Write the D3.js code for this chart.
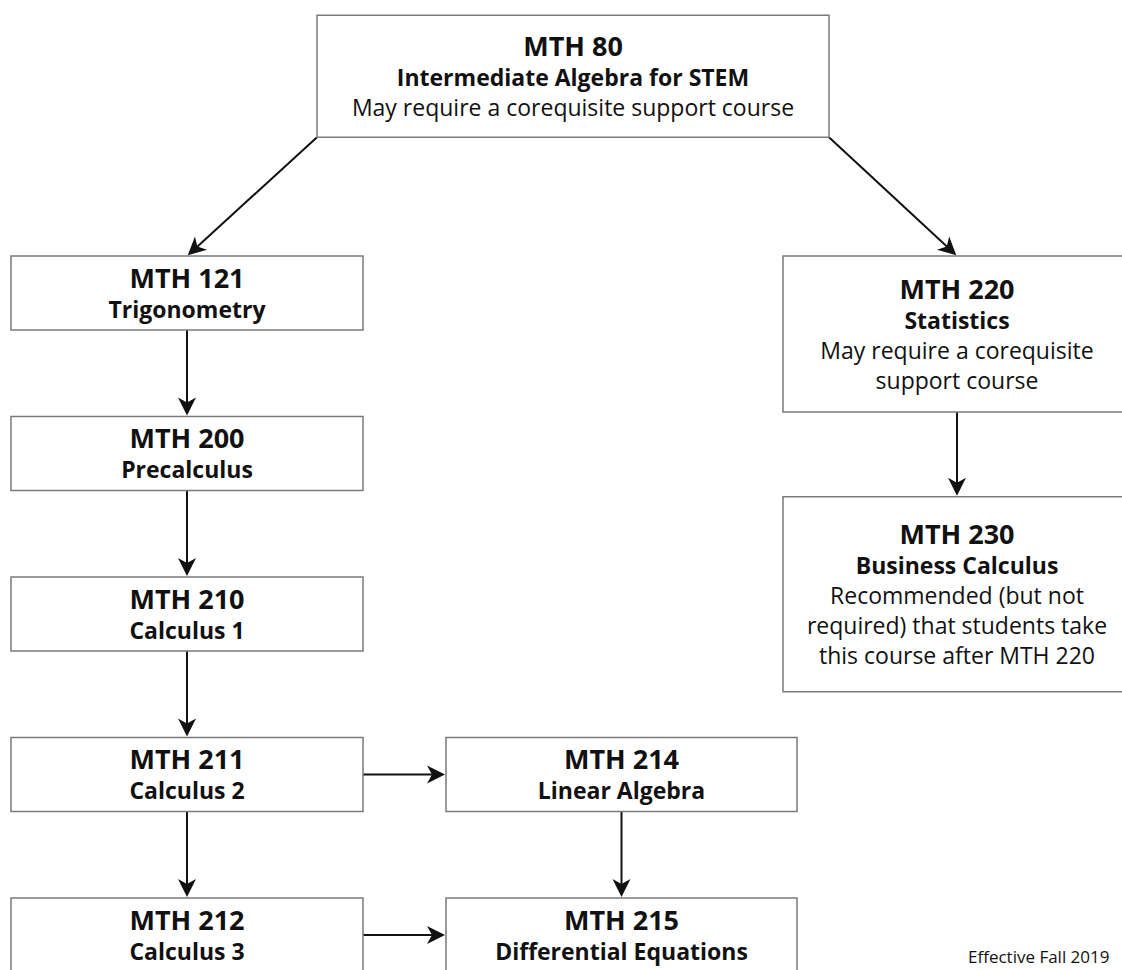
<!DOCTYPE html>
<html>
<head>
<meta charset="utf-8">
<script src="https://cdn.jsdelivr.net/npm/d3@7"></script>
<style>
  body { margin: 0; background: #fff; }
  svg { display: block; overflow: hidden; }
  text { font-family: "Open Sans", "Noto Sans", sans-serif; fill: #111; }
</style>
</head>
<body>
<div id="chart"></div>
<script>
// Course pathway data
var courses = ["MTH 80", "MTH 121", "MTH 200", "MTH 210", "MTH 211", "MTH 212", "MTH 214", "MTH 215", "MTH 220", "MTH 230"];
var titles = ["Intermediate Algebra for STEM", "Trigonometry", "Precalculus", "Calculus 1", "Calculus 2",
    "Calculus 3", "Linear Algebra", "Differential Equations", "Statistics", "Business Calculus"];
var notes = [
    ["May require a corequisite support course"],
    [], [], [], [], [], [], [],
    ["May require a corequisite", "support course"],
    ["Recommended (but not", "required) that students take", "this course after MTH 220"]
];
// where each course sits in the chart grid
var columns = ["top", "left", "left", "left", "left", "left", "mid", "mid", "right", "right"];
var levels = [-0.5, 1, 2, 3, 4, 5, 4, 5, 1, 2.5];
// prerequisite -> course
var prereqs = [
    ["MTH 80", "MTH 121"], ["MTH 80", "MTH 220"],
    ["MTH 121", "MTH 200"], ["MTH 200", "MTH 210"], ["MTH 210", "MTH 211"],
    ["MTH 211", "MTH 212"], ["MTH 211", "MTH 214"],
    ["MTH 212", "MTH 215"], ["MTH 214", "MTH 215"],
    ["MTH 220", "MTH 230"]
];
var footnote = "Effective Fall 2019";

var width = 1122,
    height = 970;

//Scales for the grid
var y = d3.scaleLinear().domain([1, 5]).range([256, 898]);
var colX = d3.scaleOrdinal().domain(["left", "mid", "top", "right"]).range([187, 621.5, 573, 957]);
var colW = d3.scaleOrdinal().domain(["left", "mid", "top", "right"]).range([352, 351, 512, 348]);
var boxH = d3.scaleOrdinal().domain([2, 3, 4, 5]).range([74, 122, 156, 195]);

//Build the nodes
var nodes = courses.map(function(code, i) {
    var lines = [{text: code, cls: "code"}, {text: titles[i], cls: "title"}];
    notes[i].forEach(function(n) { lines.push({text: n, cls: "note"}); });
    var w = colW(columns[i]), h = boxH(lines.length);
    return {
        code: code,
        lines: lines,
        cx: colX(columns[i]),
        x0: colX(columns[i]) - w / 2,
        x1: colX(columns[i]) + w / 2,
        y0: y(levels[i]),
        y1: y(levels[i]) + h,
        cy: y(levels[i]) + h / 2
    };
});
var byCode = {};
nodes.forEach(function(n) { byCode[n.code] = n; });

var svg = d3.select("#chart").append("svg")
    .attr("width", width)
    .attr("height", height);

svg.append("defs").append("marker")
    .attr("id", "arrow")
    .attr("markerUnits", "userSpaceOnUse")
    .attr("viewBox", "-12 -12 26 24")
    .attr("markerWidth", 26)
    .attr("markerHeight", 24)
    .attr("refX", 0)
    .attr("refY", 0)
    .attr("orient", "auto")
    .append("path")
    .attr("d", "M11,0 L-7,-9 L-2,0 L-7,9 Z")
    .attr("fill", "#111");

//Work out arrow end points
var links = prereqs.map(function(p) {
    var s = byCode[p[0]], t = byCode[p[1]], a, b;
    if (s.y1 <= t.y0 && Math.abs(s.cx - t.cx) < 5) {
        a = [s.cx, s.y1]; b = [s.cx, t.y0];
    } else if (s.y1 <= t.y0) {
        a = [t.cx < s.cx ? s.x0 : s.x1, s.y1]; b = [t.cx, t.y0];
    } else {
        a = [s.x1, s.cy]; b = [t.x0, s.cy];
    }
    //pull the line back so the head sits on the box edge
    var dx = b[0] - a[0], dy = b[1] - a[1], len = Math.sqrt(dx * dx + dy * dy);
    b = [b[0] - dx / len * 12, b[1] - dy / len * 12];
    return [a, b];
});

svg.selectAll(".link")
    .data(links)
    .enter().append("line")
    .attr("class", "link")
    .attr("x1", function(d) { return d[0][0]; })
    .attr("y1", function(d) { return d[0][1]; })
    .attr("x2", function(d) { return d[1][0]; })
    .attr("y2", function(d) { return d[1][1]; })
    .attr("stroke", "#111")
    .attr("stroke-width", 2)
    .attr("marker-end", "url(#arrow)");

var box = svg.selectAll(".course")
    .data(nodes)
    .enter().append("g")
    .attr("class", "course");

box.append("rect")
    .attr("x", function(d) { return d.x0; })
    .attr("y", function(d) { return d.y0; })
    .attr("width", function(d) { return d.x1 - d.x0; })
    .attr("height", function(d) { return d.y1 - d.y0; })
    .attr("fill", "#fff")
    .attr("stroke", "#7a7a7a")
    .attr("stroke-width", 1.5);

var fontSize = {code: 27, title: 23, note: 23};
var fontWeight = {code: 700, title: 700, note: 400};

box.each(function(d) {
    var n = d.lines.length,
        gap = 30,
        capH = 19,
        block = capH + (n - 1) * gap,
        first = d.cy - block / 2 + capH;
    d3.select(this).selectAll("text")
        .data(d.lines)
        .enter().append("text")
        .attr("x", d.cx)
        .attr("y", function(l, i) { return first + i * gap; })
        .attr("text-anchor", "middle")
        .style("font-size", function(l) { return fontSize[l.cls] + "px"; })
        .style("font-weight", function(l) { return fontWeight[l.cls]; })
        .text(function(l) { return l.text; });
});

svg.append("text")
    .attr("x", 968)
    .attr("y", 963)
    .style("font-size", "17px")
    .text(footnote);
</script>
</body>
</html>
